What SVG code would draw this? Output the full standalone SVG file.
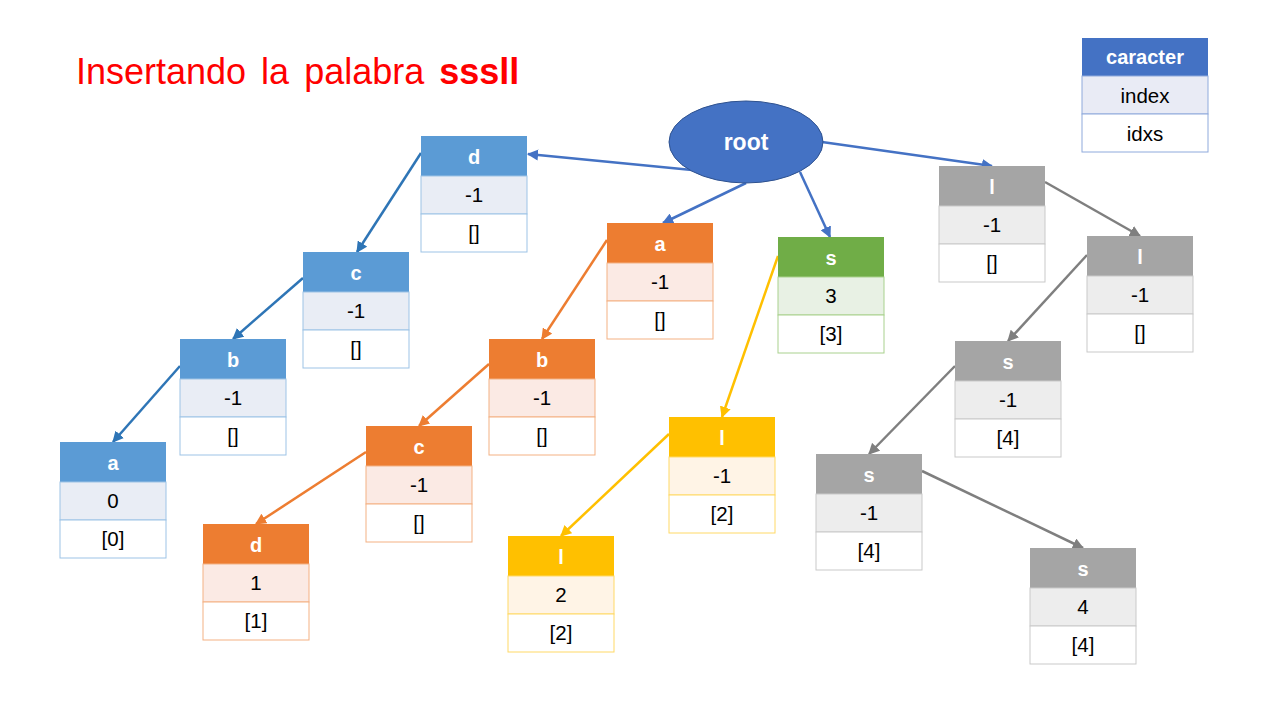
<svg xmlns="http://www.w3.org/2000/svg" width="1280" height="720" viewBox="0 0 1280 720">
<defs>
<style>
text{font-family:"Liberation Sans",Arial,sans-serif;text-anchor:middle}
.h{font-weight:bold;font-size:20px;fill:#fff}
.v{font-size:20.5px;fill:#000}
.blue .hd{fill:#5B9BD5}.blue .r2{fill:#E9EDF5;stroke:#9DC3E6}.blue .r3{fill:#fff;stroke:#9DC3E6}
.org .hd{fill:#ED7D31}.org .r2{fill:#FBEAE4;stroke:#F4B183}.org .r3{fill:#fff;stroke:#F4B183}
.grn .hd{fill:#70AD47}.grn .r2{fill:#E8F1E4;stroke:#A9D18E}.grn .r3{fill:#fff;stroke:#A9D18E}
.yel .hd{fill:#FFC000}.yel .r2{fill:#FFF4E6;stroke:#FFD966}.yel .r3{fill:#fff;stroke:#FFD966}
.gry .hd{fill:#A5A5A5}.gry .r2{fill:#EDEDED;stroke:#C9C9C9}.gry .r3{fill:#fff;stroke:#C9C9C9}
.leg .hd{fill:#4472C4}.leg .r2{fill:#E9EBF5;stroke:#8FAADC}.leg .r3{fill:#fff;stroke:#8FAADC}
.e{fill:none;stroke-width:2.5}
.eb{stroke:#2E75B6;marker-end:url(#mb)}
.er{stroke:#4472C4;marker-end:url(#mr)}
.eo{stroke:#ED7D31;marker-end:url(#mo)}
.ey{stroke:#FFC000;marker-end:url(#my)}
.eg{stroke:#7F7F7F;marker-end:url(#mg)}
</style>
<marker id="mb" viewBox="0 0 10 10" refX="9" refY="5" markerWidth="4.5" markerHeight="4.5" orient="auto"><path d="M0,0L10,5L0,10z" fill="#2E75B6"/></marker>
<marker id="mr" viewBox="0 0 10 10" refX="9" refY="5" markerWidth="4.5" markerHeight="4.5" orient="auto"><path d="M0,0L10,5L0,10z" fill="#4472C4"/></marker>
<marker id="mo" viewBox="0 0 10 10" refX="9" refY="5" markerWidth="4.5" markerHeight="4.5" orient="auto"><path d="M0,0L10,5L0,10z" fill="#ED7D31"/></marker>
<marker id="my" viewBox="0 0 10 10" refX="9" refY="5" markerWidth="4.5" markerHeight="4.5" orient="auto"><path d="M0,0L10,5L0,10z" fill="#FFC000"/></marker>
<marker id="mg" viewBox="0 0 10 10" refX="9" refY="5" markerWidth="4.5" markerHeight="4.5" orient="auto"><path d="M0,0L10,5L0,10z" fill="#7F7F7F"/></marker>
</defs>
<rect width="1280" height="720" fill="#fff"/>
<text x="76" y="84" style="text-anchor:start;font-size:36px;fill:#FF0000;word-spacing:5px">Insertando la palabra <tspan font-weight="bold">sssll</tspan></text>

<g id="connectors">
<line class="e er" x1="692" y1="170" x2="528" y2="154"/>
<line class="e er" x1="746" y1="183" x2="663" y2="223"/>
<line class="e er" x1="800" y1="172" x2="830" y2="237"/>
<line class="e er" x1="822" y1="142" x2="992" y2="166"/>
<line class="e eb" x1="421" y1="153" x2="357" y2="252"/>
<line class="e eb" x1="303" y1="278" x2="233" y2="339"/>
<line class="e eb" x1="180" y1="366" x2="113" y2="442"/>
<line class="e eo" x1="607" y1="240" x2="542" y2="339"/>
<line class="e eo" x1="489" y1="364" x2="419" y2="426"/>
<line class="e eo" x1="366" y1="452" x2="256" y2="524"/>
<line class="e ey" x1="778" y1="256" x2="722" y2="417"/>
<line class="e ey" x1="669" y1="434" x2="561" y2="536"/>
<line class="e eg" x1="1045" y1="182" x2="1140" y2="236"/>
<line class="e eg" x1="1087" y1="255" x2="1008" y2="341"/>
<line class="e eg" x1="955" y1="366" x2="869" y2="454"/>
<line class="e eg" x1="922" y1="471" x2="1083" y2="548"/>
</g>

<g id="root">
<ellipse cx="746" cy="142" rx="77" ry="41" fill="#4472C4" stroke="#2F528F" stroke-width="1"/>
<text class="h" x="746" y="150" style="font-size:23px">root</text>
</g>

<g id="legend" class="leg" transform="translate(1082,38)">
<rect class="hd" width="126" height="38"/><rect class="r2" y="38" width="126" height="38"/><rect class="r3" y="76" width="126" height="38"/>
<text class="h" x="63" y="26">caracter</text><text class="v" x="63" y="65">index</text><text class="v" x="63" y="103">idxs</text>
</g>

<g id="n_d" class="blue" transform="translate(421,136)">
<rect class="hd" width="106" height="40"/><rect class="r2" y="40" width="106" height="38"/><rect class="r3" y="78" width="106" height="38"/>
<text class="h" x="53" y="28">d</text><text class="v" x="53" y="66">-1</text><text class="v" x="53" y="104">[]</text>
</g>
<g id="n_dc" class="blue" transform="translate(303,252)">
<rect class="hd" width="106" height="40"/><rect class="r2" y="40" width="106" height="38"/><rect class="r3" y="78" width="106" height="38"/>
<text class="h" x="53" y="28">c</text><text class="v" x="53" y="66">-1</text><text class="v" x="53" y="104">[]</text>
</g>
<g id="n_dcb" class="blue" transform="translate(180,339)">
<rect class="hd" width="106" height="40"/><rect class="r2" y="40" width="106" height="38"/><rect class="r3" y="78" width="106" height="38"/>
<text class="h" x="53" y="28">b</text><text class="v" x="53" y="66">-1</text><text class="v" x="53" y="104">[]</text>
</g>
<g id="n_dcba" class="blue" transform="translate(60,442)">
<rect class="hd" width="106" height="40"/><rect class="r2" y="40" width="106" height="38"/><rect class="r3" y="78" width="106" height="38"/>
<text class="h" x="53" y="28">a</text><text class="v" x="53" y="66">0</text><text class="v" x="53" y="104">[0]</text>
</g>

<g id="n_a" class="org" transform="translate(607,223)">
<rect class="hd" width="106" height="40"/><rect class="r2" y="40" width="106" height="38"/><rect class="r3" y="78" width="106" height="38"/>
<text class="h" x="53" y="28">a</text><text class="v" x="53" y="66">-1</text><text class="v" x="53" y="104">[]</text>
</g>
<g id="n_ab" class="org" transform="translate(489,339)">
<rect class="hd" width="106" height="40"/><rect class="r2" y="40" width="106" height="38"/><rect class="r3" y="78" width="106" height="38"/>
<text class="h" x="53" y="28">b</text><text class="v" x="53" y="66">-1</text><text class="v" x="53" y="104">[]</text>
</g>
<g id="n_abc" class="org" transform="translate(366,426)">
<rect class="hd" width="106" height="40"/><rect class="r2" y="40" width="106" height="38"/><rect class="r3" y="78" width="106" height="38"/>
<text class="h" x="53" y="28">c</text><text class="v" x="53" y="66">-1</text><text class="v" x="53" y="104">[]</text>
</g>
<g id="n_abcd" class="org" transform="translate(203,524)">
<rect class="hd" width="106" height="40"/><rect class="r2" y="40" width="106" height="38"/><rect class="r3" y="78" width="106" height="38"/>
<text class="h" x="53" y="28">d</text><text class="v" x="53" y="66">1</text><text class="v" x="53" y="104">[1]</text>
</g>

<g id="n_s" class="grn" transform="translate(778,237)">
<rect class="hd" width="106" height="40"/><rect class="r2" y="40" width="106" height="38"/><rect class="r3" y="78" width="106" height="38"/>
<text class="h" x="53" y="28">s</text><text class="v" x="53" y="66">3</text><text class="v" x="53" y="104">[3]</text>
</g>
<g id="n_sl" class="yel" transform="translate(669,417)">
<rect class="hd" width="106" height="40"/><rect class="r2" y="40" width="106" height="38"/><rect class="r3" y="78" width="106" height="38"/>
<text class="h" x="53" y="28">l</text><text class="v" x="53" y="66">-1</text><text class="v" x="53" y="104">[2]</text>
</g>
<g id="n_sll" class="yel" transform="translate(508,536)">
<rect class="hd" width="106" height="40"/><rect class="r2" y="40" width="106" height="38"/><rect class="r3" y="78" width="106" height="38"/>
<text class="h" x="53" y="28">l</text><text class="v" x="53" y="66">2</text><text class="v" x="53" y="104">[2]</text>
</g>

<g id="n_l" class="gry" transform="translate(939,166)">
<rect class="hd" width="106" height="40"/><rect class="r2" y="40" width="106" height="38"/><rect class="r3" y="78" width="106" height="38"/>
<text class="h" x="53" y="28">l</text><text class="v" x="53" y="66">-1</text><text class="v" x="53" y="104">[]</text>
</g>
<g id="n_ll" class="gry" transform="translate(1087,236)">
<rect class="hd" width="106" height="40"/><rect class="r2" y="40" width="106" height="38"/><rect class="r3" y="78" width="106" height="38"/>
<text class="h" x="53" y="28">l</text><text class="v" x="53" y="66">-1</text><text class="v" x="53" y="104">[]</text>
</g>
<g id="n_lls" class="gry" transform="translate(955,341)">
<rect class="hd" width="106" height="40"/><rect class="r2" y="40" width="106" height="38"/><rect class="r3" y="78" width="106" height="38"/>
<text class="h" x="53" y="28">s</text><text class="v" x="53" y="66">-1</text><text class="v" x="53" y="104">[4]</text>
</g>
<g id="n_llss" class="gry" transform="translate(816,454)">
<rect class="hd" width="106" height="40"/><rect class="r2" y="40" width="106" height="38"/><rect class="r3" y="78" width="106" height="38"/>
<text class="h" x="53" y="28">s</text><text class="v" x="53" y="66">-1</text><text class="v" x="53" y="104">[4]</text>
</g>
<g id="n_llsss" class="gry" transform="translate(1030,548)">
<rect class="hd" width="106" height="40"/><rect class="r2" y="40" width="106" height="38"/><rect class="r3" y="78" width="106" height="38"/>
<text class="h" x="53" y="28">s</text><text class="v" x="53" y="66">4</text><text class="v" x="53" y="104">[4]</text>
</g>
</svg>
